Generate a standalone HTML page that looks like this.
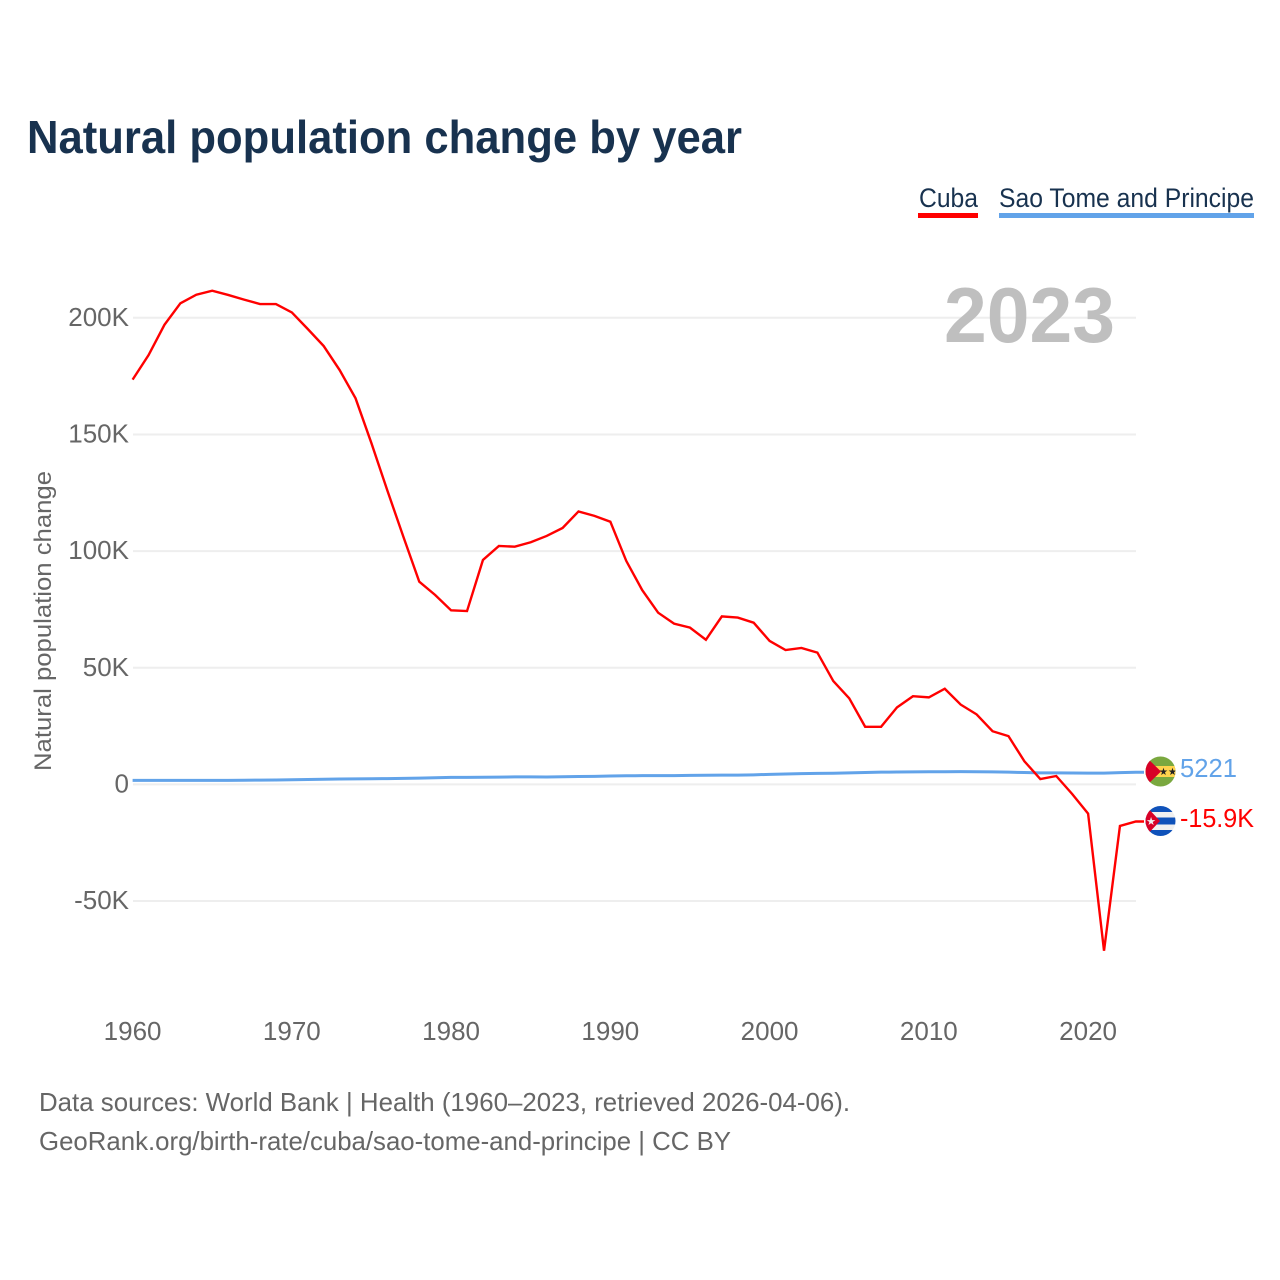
<!DOCTYPE html>
<html lang="en">
<head>
<meta charset="utf-8">
<title>Natural population change by year</title>
<style>
html,body{margin:0;padding:0;background:#fff;}
svg{display:block;font-family:"Liberation Sans",sans-serif;}
</style>
</head>
<body>
<svg id="chart" xmlns="http://www.w3.org/2000/svg" width="1280" height="1280" viewBox="0 0 1280 1280">
  <defs>
    <clipPath id="flag-clip-st"><circle cx="1160.500" cy="771.500" r="15"/></clipPath>
    <clipPath id="flag-clip-cu"><circle cx="1160.500" cy="821" r="15"/></clipPath>
  </defs>
  <rect x="0" y="0" width="1280" height="1280" fill="#fff"/>
  <text x="27" y="153" font-size="46" font-weight="700" fill="#18324f" textLength="715" lengthAdjust="spacingAndGlyphs">Natural population change by year</text>

  <g>
    <text x="919" y="207" font-size="27" fill="#18324f" textLength="59" lengthAdjust="spacingAndGlyphs">Cuba</text>
    <rect x="918" y="213" width="60" height="5" fill="#ff0000"/>
  </g>
  <g>
    <text x="999" y="207" font-size="27" fill="#18324f" textLength="255" lengthAdjust="spacingAndGlyphs">Sao Tome and Principe</text>
    <rect x="999" y="213" width="255" height="5" fill="#62a3e9"/>
  </g>

  <g id="grid"></g>
  <g id="yticks"></g>
  <g id="xticks"></g>

  <text x="944" y="342" font-size="78" font-weight="700" fill="#bfbfbf" textLength="171" lengthAdjust="spacingAndGlyphs">2023</text>

  <text transform="translate(51 771) rotate(-90)" x="0" y="0" font-size="24" fill="#666" textLength="300" lengthAdjust="spacingAndGlyphs">Natural population change</text>

  <g id="series"></g>

  <g clip-path="url(#flag-clip-st)">
    <rect x="1145" y="756" width="31" height="31" fill="#7aa83f"/>
    <rect x="1145" y="766" width="31" height="11" fill="#ffd34d"/>
    <polygon points="1145,756 1161,771.500 1145,787" fill="#d80027"/>
    <text x="1168" y="775" font-size="10" text-anchor="middle" fill="#222">★★</text>
  </g>
  <g clip-path="url(#flag-clip-cu)">
    <rect x="1145" y="805" width="31" height="32" fill="#f0f0f0"/>
    <rect x="1145" y="805" width="31" height="7" fill="#0f52ba"/>
    <rect x="1145" y="817.500" width="31" height="7" fill="#0f52ba"/>
    <rect x="1145" y="830" width="31" height="7" fill="#0f52ba"/>
    <polygon points="1145,805 1160,821 1145,837" fill="#d80027"/>
    <text x="1151" y="825" font-size="11" text-anchor="middle" fill="#f0f0f0">★</text>
  </g>

  <text x="1180" y="777" font-size="26" fill="#62a3e9" textLength="57" lengthAdjust="spacingAndGlyphs">5221</text>
  <text x="1180" y="827" font-size="26" fill="#ff0000" textLength="74" lengthAdjust="spacingAndGlyphs">-15.9K</text>

  <text x="39" y="1111" font-size="26" fill="#666" textLength="811" lengthAdjust="spacingAndGlyphs">Data sources: World Bank | Health (1960–2023, retrieved 2026-04-06).</text>
  <text x="39" y="1150" font-size="26" fill="#666" textLength="692" lengthAdjust="spacingAndGlyphs">GeoRank.org/birth-rate/cuba/sao-tome-and-principe | CC BY</text>
</svg>
<script>
var firstYear = 1960;
var cubaValues = [173.5,184,197,206.2,209.9,211.6,209.8,207.8,205.9,205.9,202.3,195.2,187.9,177.6,165.5,146.2,125.9,106.2,86.9,81.2,74.6,74.3,96.2,102.2,101.9,103.8,106.5,109.9,117,115.1,112.6,95.8,83.3,73.6,68.9,67.2,62,72,71.5,69.3,61.5,57.6,58.5,56.5,44.3,36.9,24.7,24.7,33,37.8,37.3,41,34.2,30,22.8,20.7,9.9,2.3,3.6,-4.1,-12.5,-71.3,-17.8,-15.9];
var saoTomeValues = [1.75,1.72,1.7,1.7,1.7,1.72,1.75,1.8,1.85,1.9,2.0,2.1,2.2,2.3,2.35,2.4,2.5,2.6,2.7,2.85,3.0,3.0,3.05,3.1,3.2,3.2,3.15,3.3,3.4,3.45,3.6,3.7,3.75,3.75,3.75,3.85,3.9,3.95,4.0,4.1,4.3,4.45,4.6,4.7,4.8,4.95,5.1,5.25,5.3,5.35,5.4,5.45,5.5,5.45,5.35,5.25,5.1,4.95,4.95,4.9,4.85,4.85,5.05,5.221];
var yTickValues = [200,150,100,50,0,-50];
var yTickLabels = ["200K","150K","100K","50K","0","-50K"];
var xTickYears = [1960,1970,1980,1990,2000,2010,2020];

var SVGNS = "http://www.w3.org/2000/svg";
function xScale(year){ return 132.6 + (year - 1960) * 15.925; }
function yScale(v){ return 784.4 - v * 2.333; }
function make(tag, attrs, parent){
  var el = document.createElementNS(SVGNS, tag);
  for (var k in attrs) el.setAttribute(k, attrs[k]);
  parent.appendChild(el);
  return el;
}
var grid = document.getElementById("grid");
var yticks = document.getElementById("yticks");
var xticks = document.getElementById("xticks");
var series = document.getElementById("series");

yTickValues.forEach(function(v, i){
  var line = make("line", {x1:133, x2:1136, y1:yScale(v), y2:yScale(v), stroke:"#eeeeee", "stroke-width":2}, grid);
  
  
  var t = make("text", {x:129, y:yScale(v)+8, "text-anchor":"end", "font-size":26, fill:"#666"}, yticks);
  
  
  t.textContent = yTickLabels[i];
});
xTickYears.forEach(function(y){
  var t = make("text", {x:xScale(y), y:1040, "text-anchor":"middle", "font-size":26, fill:"#666"}, xticks);
  
  
  t.textContent = String(y);
});
function linePath(values){
  var d = values.map(function(v, i){
    return (i ? "L" : "M") + xScale(firstYear + i).toFixed(2) + " " + yScale(v).toFixed(2);
  }).join(" ");
  var lastY = yScale(values[values.length - 1]).toFixed(2);
  return d + " L1144 " + lastY;
}
var saoLine = make("path", {d:linePath(saoTomeValues), fill:"none", stroke:"#62a3e9", "stroke-width":3, "stroke-linejoin":"round"}, series);


var cubaLine = make("path", {d:linePath(cubaValues), fill:"none", stroke:"#ff0000", "stroke-width":2.4, "stroke-linejoin":"miter"}, series);


</script>
</body>
</html>
